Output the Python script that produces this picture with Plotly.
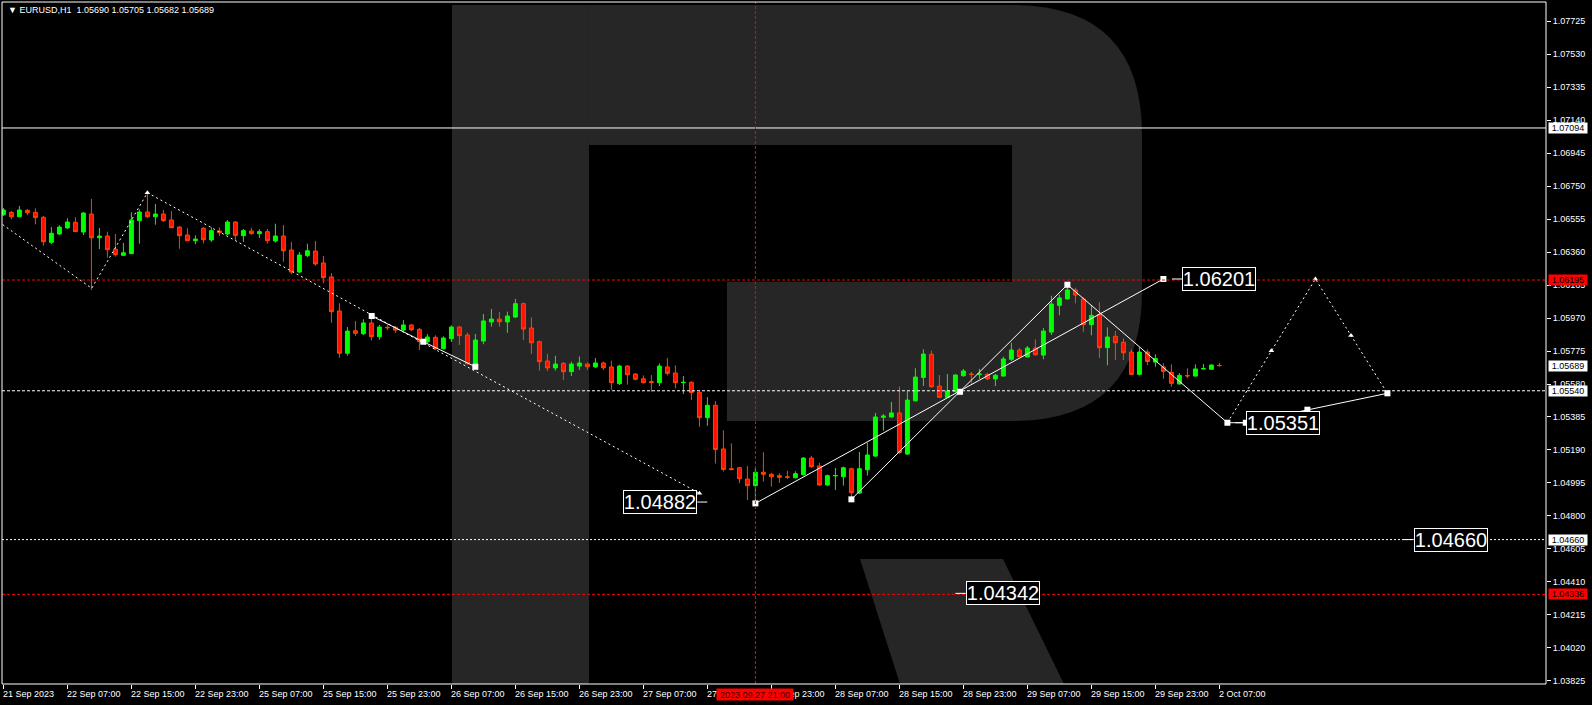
import plotly.graph_objects as go

# ---------------- data ----------------
header_text = "▼ EURUSD,H1  1.05690 1.05705 1.05682 1.05689"

bar_index = list(range(153))

open_ = [1.06581, 1.06595, 1.06569, 1.06607, 1.06595, 1.06566, 1.06418, 1.06467, 1.06503, 1.06536,
         1.06479, 1.06585, 1.06445, 1.06455, 1.06377, 1.06341, 1.06351, 1.06546, 1.06597, 1.06569,
         1.06585, 1.06550, 1.06508, 1.06461, 1.06427, 1.06501, 1.06432, 1.06485, 1.06467, 1.06538,
         1.06457, 1.06485, 1.06469, 1.06481, 1.06426, 1.06455, 1.06372, 1.06242, 1.06339, 1.06366,
         1.06296, 1.06213, 1.06012, 1.05762, 1.05895, 1.05877, 1.05941, 1.05860, 1.05915, 1.05915,
         1.05899, 1.05929, 1.05903, 1.05830, 1.05856, 1.05789, 1.05848, 1.05917, 1.05870, 1.05695,
         1.05834, 1.05947, 1.05964, 1.05947, 1.05976, 1.06055, 1.05911, 1.05830, 1.05716, 1.05675,
         1.05702, 1.05653, 1.05686, 1.05698, 1.05681, 1.05704, 1.05681, 1.05582, 1.05686, 1.05639,
         1.05611, 1.05594, 1.05588, 1.05681, 1.05645, 1.05588, 1.05590, 1.05531, 1.05381, 1.05454,
         1.05196, 1.05079, 1.05085, 1.05018, 1.04979, 1.05058, 1.05046, 1.05038, 1.05031, 1.05026,
         1.05044, 1.05142, 1.05095, 1.04983, 1.05037, 1.05032, 1.05079, 1.04935, 1.05073, 1.05154,
         1.05383, 1.05385, 1.05409, 1.05166, 1.05481, 1.05619, 1.05756, 1.05568, 1.05501, 1.05535,
         1.05629, 1.05639, 1.05636, 1.05637, 1.05610, 1.05627, 1.05726, 1.05781, 1.05740, 1.05793,
         1.05751, 1.05887, 1.06045, 1.06083, 1.06136, 1.06083, 1.05931, 1.05990, 1.05795, 1.05862,
         1.05827, 1.05769, 1.05637, 1.05769, 1.05710, 1.05681, 1.05649, 1.05580, 1.05630, 1.05627,
         1.05669, 1.05667, 1.05690]

high = [1.06621, 1.06603, 1.06633, 1.06615, 1.06619, 1.06574, 1.06508, 1.06519, 1.06560, 1.06566,
        1.06597, 1.06674, 1.06503, 1.06481, 1.06467, 1.06414, 1.06595, 1.06613, 1.06717, 1.06644,
        1.06609, 1.06603, 1.06514, 1.06501, 1.06459, 1.06508, 1.06506, 1.06506, 1.06550, 1.06544,
        1.06497, 1.06503, 1.06495, 1.06497, 1.06528, 1.06520, 1.06420, 1.06361, 1.06410, 1.06426,
        1.06337, 1.06236, 1.06057, 1.05917, 1.05953, 1.05963, 1.05982, 1.05929, 1.05929, 1.05923,
        1.05958, 1.05935, 1.05911, 1.05876, 1.05868, 1.05862, 1.05927, 1.05923, 1.05884, 1.05876,
        1.05994, 1.06024, 1.06006, 1.06008, 1.06083, 1.06062, 1.05974, 1.05837, 1.05759, 1.05747,
        1.05710, 1.05712, 1.05743, 1.05707, 1.05734, 1.05713, 1.05718, 1.05694, 1.05692, 1.05645,
        1.05631, 1.05633, 1.05702, 1.05734, 1.05690, 1.05627, 1.05595, 1.05536, 1.05503, 1.05479,
        1.05306, 1.05229, 1.05089, 1.05095, 1.05085, 1.05176, 1.05054, 1.05052, 1.05066, 1.05064,
        1.05148, 1.05154, 1.05114, 1.05044, 1.05083, 1.05091, 1.05085, 1.05178, 1.05233, 1.05409,
        1.05403, 1.05474, 1.05565, 1.05538, 1.05673, 1.05785, 1.05777, 1.05633, 1.05639, 1.05639,
        1.05669, 1.05651, 1.05670, 1.05645, 1.05639, 1.05741, 1.05824, 1.05793, 1.05805, 1.05844,
        1.05911, 1.06102, 1.06108, 1.06167, 1.06149, 1.06093, 1.06041, 1.06063, 1.05915, 1.05894,
        1.05850, 1.05785, 1.05797, 1.05785, 1.05756, 1.05702, 1.05696, 1.05645, 1.05673, 1.05696,
        1.05698, 1.05696, 1.05705]

low = [1.06574, 1.06554, 1.06568, 1.06578, 1.06524, 1.06398, 1.06408, 1.06461, 1.06497, 1.06479,
       1.06461, 1.06136, 1.06378, 1.06327, 1.06333, 1.06337, 1.06349, 1.06410, 1.06562, 1.06522,
       1.06538, 1.06503, 1.06380, 1.06426, 1.06406, 1.06412, 1.06420, 1.06455, 1.06461, 1.06430,
       1.06420, 1.06464, 1.06443, 1.06410, 1.06416, 1.06303, 1.06228, 1.06236, 1.06330, 1.06280,
       1.06177, 1.05942, 1.05735, 1.05747, 1.05864, 1.05870, 1.05838, 1.05842, 1.05899, 1.05883,
       1.05893, 1.05893, 1.05781, 1.05822, 1.05781, 1.05784, 1.05828, 1.05811, 1.05695, 1.05681,
       1.05815, 1.05919, 1.05919, 1.05883, 1.05970, 1.05840, 1.05757, 1.05659, 1.05657, 1.05659,
       1.05604, 1.05627, 1.05663, 1.05663, 1.05675, 1.05663, 1.05545, 1.05574, 1.05576, 1.05601,
       1.05583, 1.05534, 1.05568, 1.05631, 1.05554, 1.05521, 1.05485, 1.05327, 1.05333, 1.05110,
       1.05063, 1.05071, 1.04993, 1.04894, 1.04876, 1.05003, 1.04973, 1.04996, 1.05018, 1.05021,
       1.05039, 1.05085, 1.04977, 1.04977, 1.04953, 1.04979, 1.04898, 1.04929, 1.05038, 1.05148,
       1.05304, 1.05379, 1.05166, 1.05160, 1.05476, 1.05568, 1.05558, 1.05499, 1.05497, 1.05530,
       1.05623, 1.05582, 1.05610, 1.05604, 1.05568, 1.05624, 1.05716, 1.05741, 1.05737, 1.05748,
       1.05726, 1.05870, 1.05986, 1.06080, 1.06057, 1.05889, 1.05868, 1.05734, 1.05691, 1.05722,
       1.05722, 1.05633, 1.05631, 1.05691, 1.05682, 1.05611, 1.05564, 1.05577, 1.05614, 1.05624,
       1.05667, 1.05666, 1.05682]

close = [1.06609, 1.06569, 1.06609, 1.06593, 1.06564, 1.06421, 1.06471, 1.06508, 1.06538, 1.06481,
         1.06591, 1.06445, 1.06455, 1.06374, 1.06345, 1.06356, 1.06550, 1.06597, 1.06569, 1.06585,
         1.06546, 1.06504, 1.06457, 1.06427, 1.06437, 1.06433, 1.06487, 1.06475, 1.06538, 1.06459,
         1.06487, 1.06469, 1.06481, 1.06427, 1.06455, 1.06368, 1.06242, 1.06343, 1.06368, 1.06290,
         1.06209, 1.06008, 1.05762, 1.05893, 1.05880, 1.05941, 1.05860, 1.05917, 1.05913, 1.05899,
         1.05929, 1.05901, 1.05832, 1.05858, 1.05789, 1.05852, 1.05917, 1.05866, 1.05700, 1.05840,
         1.05953, 1.05964, 1.05948, 1.05982, 1.06055, 1.05905, 1.05824, 1.05712, 1.05675, 1.05698,
         1.05653, 1.05698, 1.05704, 1.05682, 1.05704, 1.05676, 1.05588, 1.05686, 1.05635, 1.05608,
         1.05588, 1.05590, 1.05686, 1.05643, 1.05588, 1.05590, 1.05530, 1.05381, 1.05454, 1.05193,
         1.05075, 1.05074, 1.05020, 1.04979, 1.05058, 1.05046, 1.05032, 1.05028, 1.05029, 1.05050,
         1.05142, 1.05091, 1.04983, 1.05038, 1.05039, 1.05085, 1.04937, 1.05079, 1.05160, 1.05385,
         1.05391, 1.05409, 1.05175, 1.05485, 1.05621, 1.05757, 1.05564, 1.05501, 1.05539, 1.05633,
         1.05657, 1.05636, 1.05639, 1.05610, 1.05632, 1.05728, 1.05781, 1.05741, 1.05793, 1.05753,
         1.05893, 1.06053, 1.06089, 1.06136, 1.06106, 1.05931, 1.05986, 1.05795, 1.05858, 1.05824,
         1.05765, 1.05637, 1.05769, 1.05713, 1.05730, 1.05655, 1.05584, 1.05631, 1.05628, 1.05669,
         1.05671, 1.05692, 1.05689]

time_tick_bars = [0, 8, 16, 24, 32, 40, 48, 56, 64, 72, 80, 88, 96, 104, 112, 120, 128, 136, 144, 152]
time_tick_labels = ["21 Sep 2023", "22 Sep 07:00", "22 Sep 15:00", "22 Sep 23:00", "25 Sep 07:00",
                    "25 Sep 15:00", "25 Sep 23:00", "26 Sep 07:00", "26 Sep 15:00", "26 Sep 23:00",
                    "27 Sep 07:00", "27 Sep 15:00", "27 Sep 23:00", "28 Sep 07:00", "28 Sep 15:00",
                    "28 Sep 23:00", "29 Sep 07:00", "29 Sep 15:00", "29 Sep 23:00", "2 Oct 07:00"]

price_ticks = [1.03825, 1.04020, 1.04215, 1.04410, 1.04605, 1.04800, 1.04995, 1.05190, 1.05385,
               1.05580, 1.05775, 1.05970, 1.06165, 1.06360, 1.06555, 1.06750, 1.06945, 1.07140,
               1.07335, 1.07530, 1.07725]
price_tick_labels = ["1.03825", "1.04020", "1.04215", "1.04410", "1.04605", "1.04800", "1.04995",
                     "1.05190", "1.05385", "1.05580", "1.05775", "1.05970", "1.06165", "1.06360",
                     "1.06555", "1.06750", "1.06945", "1.07140", "1.07335", "1.07530", "1.07725"]

# horizontal levels
level_solid_white = 1.07094
level_red_upper = 1.06195
level_white_dash = 1.05540
level_white_dot = 1.04660
level_red_lower = 1.04336
last_close = 1.05689

crosshair_bar = 94
crosshair_label = "2023.09.27 21:00"

# drawn wave lines (bar index, price)
zigzag_x = [-0.6, 11.04, 18.0, 87.0]
zigzag_y = [1.06540, 1.06146, 1.06711, 1.04934]
wave_x = [46.04, 52.49, 58.99]
wave_y = [1.05982, 1.05830, 1.05682]
up_long_x = [94.0, 145.0]
up_long_y = [1.04874, 1.06201]
up_steep_x = [106.0, 133.0]
up_steep_y = [1.04898, 1.06167]
down_x = [133.0, 153.0, 155.3]
down_y = [1.06167, 1.05351, 1.05351]
proj_dot_x = [153.0, 164.0, 173.0]
proj_dot_y = [1.05351, 1.06201, 1.05525]
proj_solid_x = [155.3, 163.0, 173.0]
proj_solid_y = [1.05351, 1.05428, 1.05525]
pivot_x = [46.04, 52.49, 58.99, 94.0, 106.0, 119.57, 133.0, 145.0, 153.0, 155.3, 163.0, 173.0]
pivot_y = [1.05982, 1.05830, 1.05682, 1.04874, 1.04898, 1.05534, 1.06167, 1.06201, 1.05351,
           1.05351, 1.05428, 1.05525]
arrow_x = [18.0, 87.0, 158.5, 168.45, 164.0]
arrow_y = [1.06711, 1.04934, 1.05776, 1.05867, 1.06201]

# text labels (text, anchor bar, price, side)
label_1 = ("1.04882", 86.74, 1.04882, "right")
label_2 = ("1.06201", 147.36, 1.06201, "left")
label_3 = ("1.05351", 155.3, 1.05351, "left")
label_4 = ("1.04660", 176.3, 1.04660, "left")
label_5 = ("1.04342", 120.3, 1.04342, "left")

# ---------------- layout constants ----------------
W, H = 1592, 705
L, R, T, B = 2, 46, 2, 21
PW, PH = W - L - R, H - T - B
FONT = "Liberation Sans, Arial, sans-serif"
GREY = "#262626"


def px(xp, yp):
    """pixel position -> paper coordinates (decoration only)"""
    return (xp - L) / PW, (H - B - yp) / PH


def poly(points):
    pts = [px(a, b) for a, b in points]
    return "M " + " L ".join(f"{a:.5f},{b:.5f}" for a, b in pts) + " Z"


fig = go.Figure()

fig.add_trace(go.Candlestick(
    x=bar_index, open=open_, high=high, low=low, close=close,
    increasing=dict(line=dict(color="#00ff00", width=1), fillcolor="#00ff00"),
    decreasing=dict(line=dict(color="#ff4500", width=1), fillcolor="#ff1000"),
    whiskerwidth=0, showlegend=False, hoverinfo="skip"))


def line(x, y, dash="solid", width=1):
    fig.add_trace(go.Scatter(x=x, y=y, mode="lines", line=dict(color="white", width=width, dash=dash),
                             showlegend=False, hoverinfo="skip"))


line(zigzag_x, zigzag_y, "2px,3px")
line(wave_x, wave_y)
line(up_long_x, up_long_y)
line(up_steep_x, up_steep_y)
line(down_x, down_y)
line(proj_dot_x, proj_dot_y, "2px,3px")
line(proj_solid_x, proj_solid_y)

fig.add_trace(go.Scatter(x=pivot_x, y=pivot_y, mode="markers",
                         marker=dict(symbol="square", size=6, color="white"),
                         showlegend=False, hoverinfo="skip"))
fig.add_trace(go.Scatter(x=arrow_x, y=arrow_y, mode="markers",
                         marker=dict(symbol="triangle-up", size=5, color="white"),
                         showlegend=False, hoverinfo="skip"))

shapes = []
# background logo
logo_polys = [
    [(452, 5), (589, 5), (589, 684), (452, 684)],
    [(589, 5), (1012, 5), (1012, 145), (589, 145)],
    [(727, 282), (1012, 282), (1012, 421), (727, 421)],
    [(860, 559), (1003, 559), (1064, 684), (900, 684)],
]
for p in logo_polys:
    shapes.append(dict(type="path", xref="paper", yref="paper", path=poly(p), fillcolor=GREY,
                       line=dict(width=0), layer="below"))
a = px(1012, 5); b = px(1142, 135); c = px(1142, 291); d = px(1012, 421)
e1 = px(1142, 5); e2 = px(1142, 421)
bowl = (f"M {a[0]:.5f},{a[1]:.5f} Q {e1[0]:.5f},{e1[1]:.5f} {b[0]:.5f},{b[1]:.5f} "
        f"L {c[0]:.5f},{c[1]:.5f} Q {e2[0]:.5f},{e2[1]:.5f} {d[0]:.5f},{d[1]:.5f} Z")
shapes.append(dict(type="path", xref="paper", yref="paper", path=bowl, fillcolor=GREY,
                   line=dict(width=0), layer="below"))


def hline(y, color, dash):
    shapes.append(dict(type="line", xref="paper", x0=0, x1=1, yref="y", y0=y, y1=y,
                       line=dict(color=color, width=1, dash=dash), layer="above"))


hline(level_solid_white, "white", "solid")
hline(level_red_upper, "#ff0000", "3px,2px")
hline(level_white_dash, "white", "3px,2px")
hline(level_white_dot, "white", "2px,2px")
hline(level_red_lower, "#ff0000", "3px,2px")
shapes.append(dict(type="line", xref="x", x0=crosshair_bar, x1=crosshair_bar, yref="paper", y0=0, y1=1,
                   line=dict(color="#ff0000", width=1, dash="3px,2px"), layer="above"))

for (txt, xb, yv, side) in [label_1, label_2, label_3, label_4, label_5]:
    if side == "right":
        x0, x1 = xb, xb + 1.25
    else:
        x0, x1 = xb - 1.3, xb
    shapes.append(dict(type="line", xref="x", yref="y", x0=x0, x1=x1, y0=yv, y1=yv,
                       line=dict(color="white", width=1)))

# frame
shapes.append(dict(type="rect", xref="paper", yref="paper", x0=0, x1=1, y0=0, y1=1,
                   line=dict(color="white", width=1), layer="above"))

annotations = []
hx, hy = px(6, 10)
annotations.append(dict(text=header_text, xref="paper", yref="paper", x=hx, y=hy,
                        xanchor="left", yanchor="middle", showarrow=False,
                        font=dict(family=FONT, size=9, color="white")))

for tb, tl in zip(time_tick_bars, time_tick_labels):
    annotations.append(dict(text=tl, x=tb, xref="x", y=0, yref="paper", xanchor="left", yanchor="top",
                            xshift=-2, yshift=-3, showarrow=False,
                            font=dict(family=FONT, size=9, color="white")))

annotations.append(dict(text=crosshair_label, x=crosshair_bar, xref="x", y=0, yref="paper",
                        xanchor="center", yanchor="top", yshift=-4, showarrow=False, bgcolor="#ff0000",
                        width=76, height=11, borderpad=0,
                        font=dict(family=FONT, size=9, color="#400000")))

for val, bg in [(level_solid_white, "white"), (level_red_upper, "#ff0000"), (last_close, "white"),
                (level_white_dash, "white"), (level_white_dot, "white"), (level_red_lower, "#ff0000")]:
    annotations.append(dict(text=f"{val:.5f}", x=1, xref="paper", y=val, yref="y", xanchor="left",
                            yanchor="middle", xshift=2, showarrow=False, bgcolor=bg, width=38, height=10,
                            borderpad=0, font=dict(family=FONT, size=9, color="black")))

for (txt, xb, yv, side) in [label_1, label_2, label_3, label_4, label_5]:
    annotations.append(dict(text=txt, x=xb, xref="x", y=yv, yref="y", xanchor=side, yanchor="middle",
                            showarrow=False, bgcolor="black", bordercolor="white", borderwidth=1,
                            borderpad=0, width=72, height=22,
                            font=dict(family=FONT, size=20, color="white")))

fig.update_layout(
    width=W, height=H, margin=dict(l=L, r=R, t=T, b=B),
    paper_bgcolor="black", plot_bgcolor="black",
    shapes=shapes, annotations=annotations, showlegend=False,
    xaxis=dict(range=[-0.175, 192.825], showgrid=False, zeroline=False, rangeslider=dict(visible=False),
               tickmode="array", tickvals=time_tick_bars, ticktext=[""] * len(time_tick_bars),
               ticks="outside", ticklen=4, tickcolor="white", showline=False, fixedrange=True),
    yaxis=dict(range=[1.03806, 1.07839], side="right", showgrid=False, zeroline=False,
               tickmode="array", tickvals=price_ticks, ticktext=price_tick_labels,
               ticks="outside", ticklen=4, tickcolor="white", showline=False,
               tickfont=dict(family=FONT, size=9, color="white")),
)

fig.write_html("out.html", config={"displayModeBar": False},
               post_script="document.body.style.margin='0px';document.body.style.background='black';")
